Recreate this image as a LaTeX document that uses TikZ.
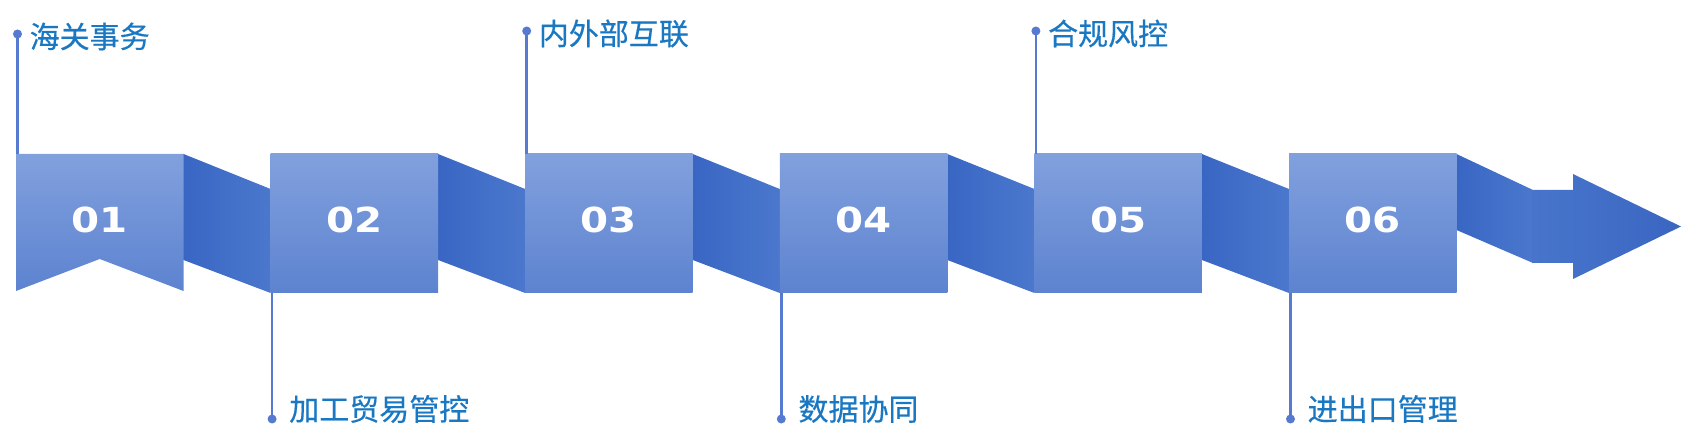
\documentclass[tikz,border=0pt]{standalone}
\usepackage{fontspec}
\newfontfamily\cjk[FakeBold=0.4]{Noto Sans CJK SC}
\newfontfamily\numfont{DejaVu Sans}
\definecolor{boxtop}{RGB}{129,160,221}
\definecolor{boxbot}{RGB}{93,131,208}
\definecolor{foldL}{RGB}{57,102,195}
\definecolor{foldR}{RGB}{75,120,205}
\definecolor{headL}{RGB}{72,117,203}
\definecolor{headR}{RGB}{58,102,194}
\definecolor{txt}{RGB}{26,120,194}
\definecolor{pin}{RGB}{86,122,207}
\begin{document}
\begin{tikzpicture}[x=1pt,y=-1pt,
  boxshade/.style={top color=boxtop,bottom color=boxbot,draw=none},
  foldshade/.style={left color=foldL,right color=foldR,draw=none},
  numlabel/.style={text=white,font=\numfont\bfseries\fontsize{34.5}{34.5}\selectfont,inner sep=0pt},
  steplabel/.style={text=txt,font=\cjk\fontsize{30}{30}\selectfont,inner sep=0pt,anchor=west},
  pinline/.style={draw=pin,line width=2.5pt},
  pindot/.style={fill=pin,circle,inner sep=0pt,minimum size=9pt}]
\useasboundingbox (0,0) rectangle (1701,438);
% folds
\foreach \i in {1,...,5}{
  \pgfmathsetmacro{\R}{16+254.6*(\i-1)+167.5}
  \pgfmathsetmacro{\L}{16+254.6*\i}
  \shade[foldshade] (\R,154) -- (\L,189) -- (\L,293) -- (\R,260) -- cycle;
}
% final arrow
\shade[foldshade] (1456.5,154) -- (1533,190) -- (1533,263) -- (1456.5,230) -- cycle;
\shade[left color=headL,right color=headR,draw=none]
  (1532,190) -- (1573,190) -- (1573,174) -- (1681,226.5) -- (1573,279) -- (1573,263) -- (1532,263) -- cycle;
% boxes
\shade[boxshade] (16,154) -- (183.5,154) -- (183.5,291) -- (99.75,259) -- (16,291) -- cycle;
\foreach \i in {2,...,6}{
  \pgfmathsetmacro{\L}{16+254.6*(\i-1)}
  \shade[boxshade] (\L,154) rectangle ++(167.5,139);
}
% numbers
\foreach \i in {1,...,6}{
  \pgfmathsetmacro{\C}{16+254.6*(\i-1)+83.75}
  \node[numlabel] (n\i) at (\C,220) {\scalebox{1.17}[1]{0\i}};
}
% top pins
\foreach \i/\t/\y in {1/海关事务/34,3/内外部互联/31,5/合规风控/31}{
  \pgfmathsetmacro{\L}{16+254.6*(\i-1)+1.5}
  \coordinate (b\i) at (\L,154);
  \node[pindot] (d\i) at (\L,\y) {};
  \draw[pinline] (d\i.center) -- (b\i);
  \node[steplabel] (t\i) at (\L+12,\y+2.5) {\t};
}
% bottom pins
\foreach \i/\t in {2/加工贸易管控,4/数据协同,6/进出口管理}{
  \pgfmathsetmacro{\L}{16+254.6*(\i-1)+1.5}
  \coordinate (b\i) at (\L,293);
  \node[pindot] (d\i) at (\L,419) {};
  \draw[pinline] (b\i) -- (d\i.center);
  \node[steplabel] (t\i) at (\L+17,409) {\t};
}
\end{tikzpicture}
\end{document}
